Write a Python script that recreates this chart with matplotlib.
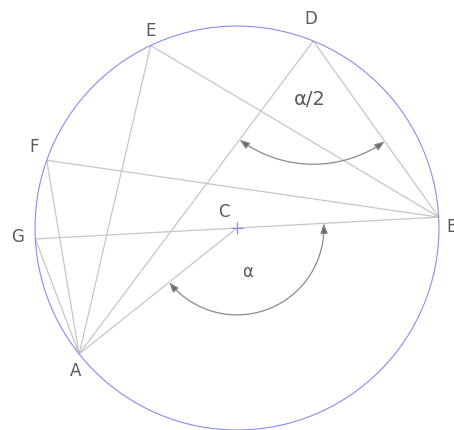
import numpy as np
import matplotlib
matplotlib.use("Agg")
import matplotlib.pyplot as plt
from matplotlib.patches import Circle, FancyArrowPatch
from matplotlib.path import Path

# Point positions on the unit circle (angle in degrees, centre C at origin)
point_names = ["A", "B", "D", "E", "F", "G"]
point_angles = [218.6, 3.1, 67.8, 115.3, 160.4, 183.1]

# Segments between named points
segments = [("A", "E"), ("A", "F"), ("A", "G"), ("A", "D"), ("A", "C"),
            ("E", "B"), ("D", "B"), ("F", "B"), ("G", "B")]

# Angle labels
central_label = "α"
inscribed_label = "α/2"

pts = {n: np.array([np.cos(np.radians(a)), np.sin(np.radians(a))])
       for n, a in zip(point_names, point_angles)}
pts["C"] = np.array([0.0, 0.0])

fig = plt.figure(figsize=(4.54, 4.30), dpi=100)
ax = fig.add_axes([0, 0, 1, 1])
ax.set_xlim(-1.173, 1.074)
ax.set_ylim(-1.0, 1.129)
ax.set_aspect("equal")
ax.axis("off")

line_col = "#c6c6c6"
text_col = "#5a5a5a"
circ_col = "#8a8af5"

ax.add_patch(Circle((0, 0), 1.0, fill=False, ec=circ_col, lw=0.8, zorder=2))

for p, q in segments:
    ax.plot([pts[p][0], pts[q][0]], [pts[p][1], pts[q][1]],
            color=line_col, lw=0.9, zorder=1, solid_capstyle="butt")

# centre marker
ax.plot([0], [0], marker="+", color=circ_col, ms=8, mew=0.9, zorder=3)


def ang(v):
    return np.degrees(np.arctan2(v[1], v[0]))


def arc_arrow(center, r, t1, t2):
    th = np.radians(np.linspace(t1, t2, 80))
    verts = np.column_stack([center[0] + r * np.cos(th), center[1] + r * np.sin(th)])
    path = Path(verts)
    arr = FancyArrowPatch(path=path, arrowstyle="<|-|>,head_length=6,head_width=2.2",
                          color="#a0a0a0", lw=0.9, zorder=3)
    arr.set_facecolor("#6a6a6a")
    arr.set_edgecolor("#8a8a8a")
    ax.add_patch(arr)


# central angle at C: from CA to CB, going through the bottom
tA = ang(pts["A"]) % 360
tB = ang(pts["B"]) % 360 + 360
arc_arrow(pts["C"], 0.43, tA, tB)

# inscribed angle at D: from DA to DB
tDA = ang(pts["A"] - pts["D"]) % 360
tDB = ang(pts["B"] - pts["D"]) % 360
arc_arrow(pts["D"], 0.61, tDA, tDB)

fs = 12
label_offsets = {"A": (-0.02, -0.085), "B": (0.065, -0.05), "C": (-0.065, 0.08),
                 "D": (-0.01, 0.11), "E": (0.0, 0.07), "F": (-0.06, 0.065),
                 "G": (-0.09, 0.01)}
for n, (dx, dy) in label_offsets.items():
    ax.text(pts[n][0] + dx, pts[n][1] + dy, n, color=text_col, fontsize=fs,
            ha="center", va="center")

ax.text(0.05, -0.22, central_label, color=text_col, fontsize=12, ha="center", va="center")
ax.text(0.36, 0.635, inscribed_label, color=text_col, fontsize=14, ha="center", va="center")

fig.savefig("out.png", dpi=100)
